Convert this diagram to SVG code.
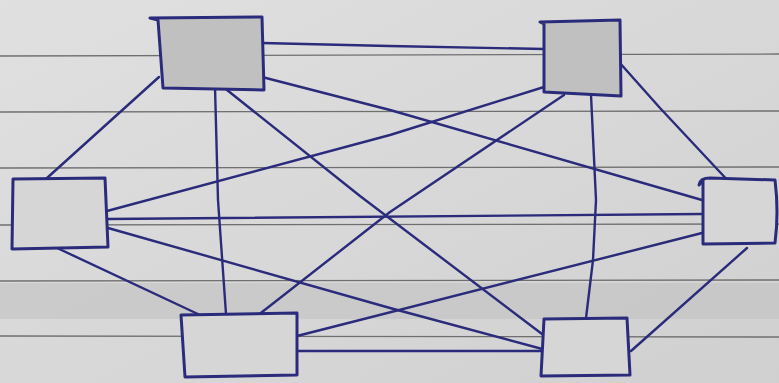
<svg xmlns="http://www.w3.org/2000/svg" width="779" height="383" viewBox="0 0 779 383">
<defs>
<linearGradient id="paper" x1="0" y1="0" x2="1" y2="1">
<stop offset="0" stop-color="#e0e0e0"/>
<stop offset="0.5" stop-color="#d8d8d8"/>
<stop offset="1" stop-color="#d0d0d0"/>
</linearGradient>
<style>
.rule{stroke:#6f6f6f;stroke-width:1.3;fill:none}
.box{fill:#d6d6d6;stroke:#2b2b7c;stroke-width:3;stroke-linejoin:round}
.dark{fill:#c0c0c0}
.wire{fill:none;stroke:#2b2b7c;stroke-width:2.4;stroke-linecap:round;stroke-linejoin:round}
</style>
</defs>
<g id="paper-bg">
<rect x="0" y="0" width="779" height="383" fill="url(#paper)"/>
<rect x="0" y="283" width="779" height="36" fill="#c2c2c2" opacity="0.6"/>
<path class="rule" d="M0 56 L779 54"/>
<path class="rule" d="M0 112 L779 111"/>
<path class="rule" d="M0 168 L779 167"/>
<path class="rule" d="M0 225 L779 224"/>
<path class="rule" d="M0 281 L779 280"/>
<path class="rule" d="M0 336 L779 337"/>
</g>
<g id="connectors">
<path class="wire" d="M262 43 L389 46 L544 49"/>
<path class="wire" d="M159 77 L47 178"/>
<path class="wire" d="M215 87 L218 200 L226 314"/>
<path class="wire" d="M227 90 L360 196 L542 334"/>
<path class="wire" d="M262 77 L390 110 L702 200"/>
<path class="wire" d="M544 87 L390 135 L107 211"/>
<path class="wire" d="M564 95 L390 212 L257 316"/>
<path class="wire" d="M591 95 L596 200 L593 260 L586 318"/>
<path class="wire" d="M619 62 L660 108 L732 185"/>
<path class="wire" d="M108 219 L702 214"/>
<path class="wire" d="M108 228 L390 308 L546 350"/>
<path class="wire" d="M55 247 L200 315"/>
<path class="wire" d="M297 336 L702 233"/>
<path class="wire" d="M297 351 L546 351"/>
<path class="wire" d="M747 248 L631 351"/>
</g>
<g id="node-top-left">
<path class="box dark" d="M150 18 L262 17 L264 90 L163 88 L158 20 Z"/>
</g>
<g id="node-top-right">
<path class="box dark" d="M540 22 L620 20 L621 96 L544 92 L544 24 Z"/>
</g>
<g id="node-left">
<path class="box" d="M13 179 L105 178 L108 247 L12 249 Z"/>
</g>
<g id="node-right">
<path class="box" d="M699 185 Q700 178 710 178 L775 180 Q779 212 775 243 L703 244 L703 180 Z"/>
</g>
<g id="node-bottom-left">
<path class="box" d="M181 315 L297 313 L297 375 L185 377 Z"/>
</g>
<g id="node-bottom-right">
<path class="box" d="M544 319 L627 318 L630 375 L541 376 Z"/>
</g>
</svg>
